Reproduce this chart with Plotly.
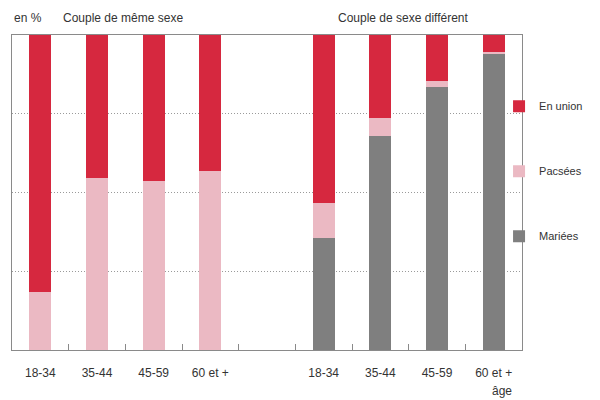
import plotly.graph_objects as go

# Couleurs
ROUGE = "#d6283f"
ROSE = "#ebb9c3"
GRIS = "#7f7f7f"
TEXTE = "#333333"

# Données (en %)
groupes = ["18-34", "35-44", "45-59", "60 et +"]
pos_meme = [0, 1, 2, 3]
pos_diff = [5, 6, 7, 8]

meme_union = [81.5, 45.5, 46.4, 43.1]
meme_pacs = [18.5, 54.5, 53.6, 56.9]

diff_union = [53.2, 26.5, 14.5, 5.3]
diff_pacs = [11.1, 5.6, 1.9, 0.7]
diff_mariees = [35.7, 67.9, 83.6, 94.0]

fig = go.Figure()

fig.add_trace(go.Bar(x=pos_diff, y=diff_mariees, marker_color=GRIS, name="Mariées",
                     legendgroup="c", legendrank=3, width=0.39))
fig.add_trace(go.Bar(x=pos_meme + pos_diff, y=meme_pacs + diff_pacs, marker_color=ROSE,
                     name="Pacsées", legendgroup="b", legendrank=2, width=0.39))
fig.add_trace(go.Bar(x=pos_meme + pos_diff, y=meme_union + diff_union, marker_color=ROUGE,
                     name="En union", legendgroup="a", legendrank=1, width=0.39))

fig.update_traces(marker_line_width=0, hoverinfo="x+y")

# la page html ajoute une marge de 8 px : figure un peu plus petite que la fenêtre
fig.update_layout(
    barmode="stack",
    width=592, height=392,
    margin=dict(l=4, r=78, t=27, b=50, autoexpand=False),
    paper_bgcolor="white", plot_bgcolor="white",
    font=dict(family="Liberation Sans Narrow, Arial Narrow, Liberation Sans, Arial", size=12, color=TEXTE),
    bargap=0,
    legend=dict(x=0.955, y=0.82, xanchor="left", yanchor="top",
                traceorder="grouped", tracegroupgap=46, itemwidth=30,
                font=dict(size=11, color=TEXTE), bgcolor="rgba(0,0,0,0)"),
)

fig.update_xaxes(
    range=[-0.5, 8.5],
    tickmode="array", tickvals=pos_meme + pos_diff, ticktext=groupes + groupes,
    ticks="", ticklabelstandoff=12,
    showline=True, linecolor="#8a8a8a", linewidth=1, mirror=True,
    showgrid=False, zeroline=False,
    minor=dict(tickmode="array", tickvals=[0.5, 1.5, 2.5, 3.5, 4.5, 5.5, 6.5, 7.5],
               ticks="inside", ticklen=6, tickcolor="#8a8a8a", showgrid=False),
)

fig.update_yaxes(
    range=[0, 100],
    tickmode="array", tickvals=[25, 50, 75], showticklabels=False, ticks="",
    showgrid=True, gridcolor="#9a9a9a", griddash="1px,2px", gridwidth=1,
    showline=True, linecolor="#8a8a8a", linewidth=1, mirror=True,
    zeroline=False,
)

fig.add_annotation(text="en %", xref="paper", yref="paper", x=0, y=1.025,
                   xanchor="left", yanchor="bottom", showarrow=False, font=dict(size=12))
fig.add_annotation(text="Couple de même sexe", xref="x", yref="paper", x=1.45, y=1.025,
                   xanchor="center", yanchor="bottom", showarrow=False, font=dict(size=12))
fig.add_annotation(text="Couple de sexe différent", xref="x", yref="paper", x=6.4, y=1.025,
                   xanchor="center", yanchor="bottom", showarrow=False, font=dict(size=12))
fig.add_annotation(text="âge", xref="x", yref="paper", x=8.15, y=-0.1,
                   xanchor="center", yanchor="top", showarrow=False, font=dict(size=12))

fig.write_html("out.html")
